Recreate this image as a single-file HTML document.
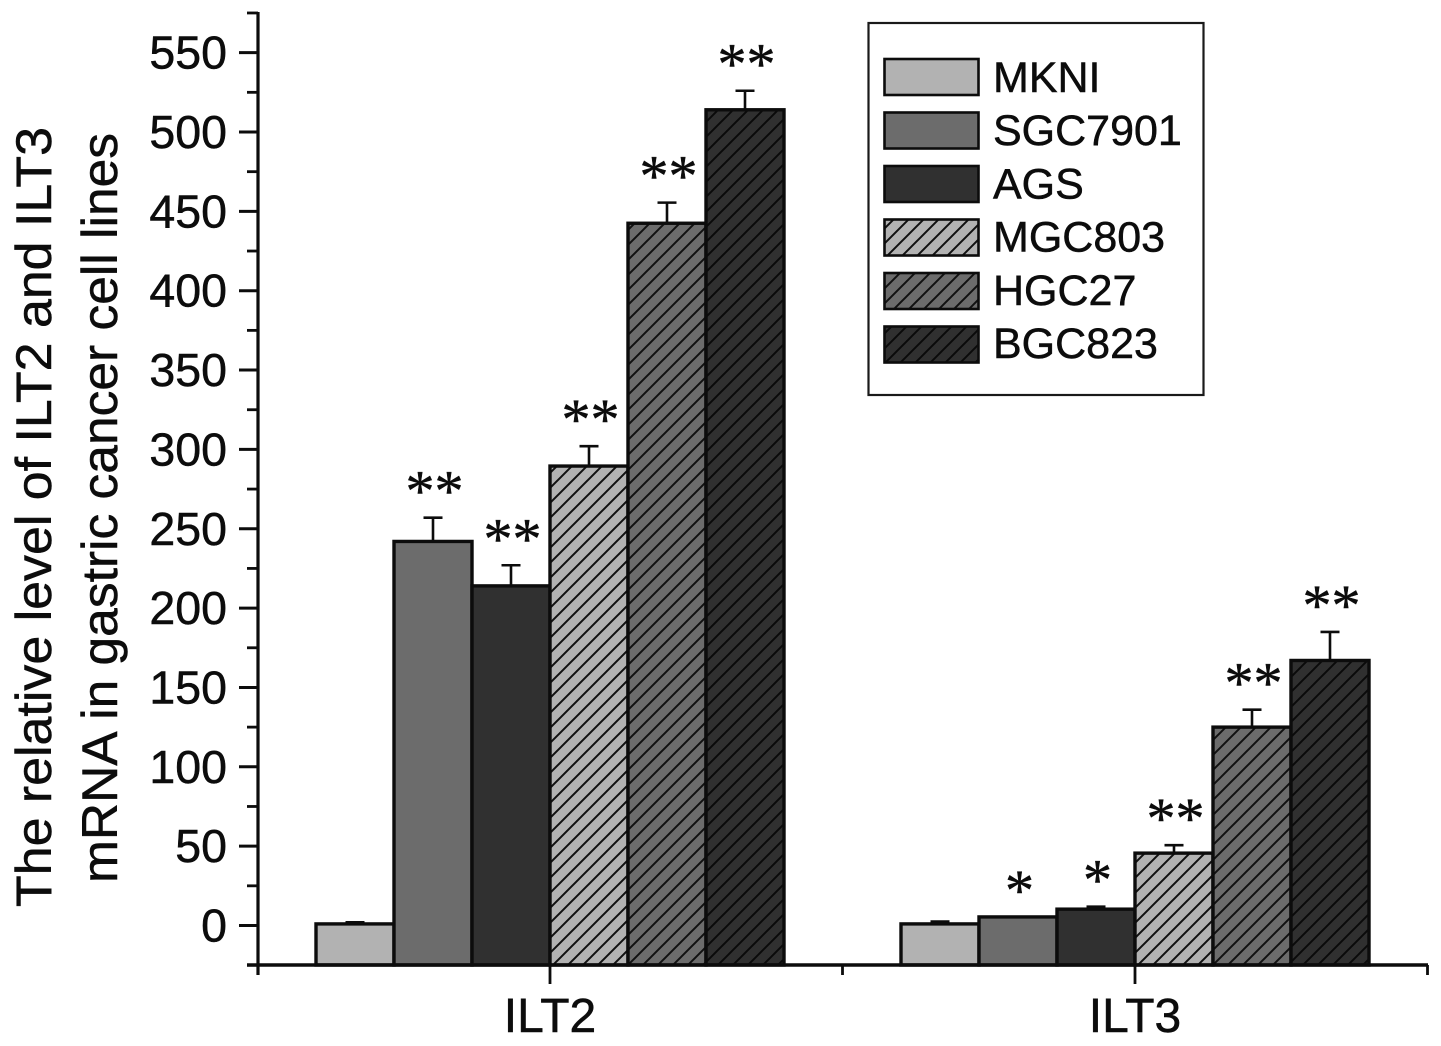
<!DOCTYPE html>
<html lang="en">
<head>
<meta charset="utf-8">
<title>ILT2 and ILT3 mRNA levels in gastric cancer cell lines</title>
<style>
  html, body { margin: 0; padding: 0; background: #fff; }
  svg { display: block; font-family: "Liberation Sans", Arial, sans-serif; }
  svg text { stroke: #0c0c0c; stroke-width: 0.5px; }
</style>
</head>
<body>
<svg id="chart" xmlns="http://www.w3.org/2000/svg" width="1441" height="1046" viewBox="0 0 1441 1046">
  <defs>
    <pattern id="hatch-light" patternUnits="userSpaceOnUse" width="15" height="15" patternTransform="translate(3 0)">
      <rect width="15" height="15" fill="#b2b2b2"></rect>
      <path d="M-4 4L4 -4M-4 19L19 -4M11 19L19 11" stroke="#111" stroke-width="2"></path>
    </pattern>
    <pattern id="hatch-mid" patternUnits="userSpaceOnUse" width="15" height="15" patternTransform="translate(3 0)">
      <rect width="15" height="15" fill="#6c6c6c"></rect>
      <path d="M-4 4L4 -4M-4 19L19 -4M11 19L19 11" stroke="#111" stroke-width="2"></path>
    </pattern>
    <pattern id="hatch-dark" patternUnits="userSpaceOnUse" width="15" height="15" patternTransform="translate(3 0)">
      <rect width="15" height="15" fill="#303030"></rect>
      <path d="M-4 4L4 -4M-4 19L19 -4M11 19L19 11" stroke="#0a0a0a" stroke-width="2"></path>
    </pattern>
  </defs>
  <text transform="translate(51 517) rotate(-90)" text-anchor="middle" font-size="50.5" textLength="780" lengthAdjust="spacingAndGlyphs" fill="#0c0c0c">The relative level of ILT2 and ILT3</text>
  <text transform="translate(117 508) rotate(-90)" text-anchor="middle" font-size="50.5" textLength="750" lengthAdjust="spacingAndGlyphs" fill="#0c0c0c">mRNA in gastric cancer cell lines</text>
  <g id="bars"></g>
  <g id="axes"></g>
  <g id="legend"></g>
</svg>
<script>
const categories = ['ILT2', 'ILT3'];
const seriesNames = ['MKNI', 'SGC7901', 'AGS', 'MGC803', 'HGC27', 'BGC823'];
const seriesFills = ['#b2b2b2', '#6c6c6c', '#303030', 'url(#hatch-light)', 'url(#hatch-mid)', 'url(#hatch-dark)'];
const valuesILT2 = [1, 242, 214, 289.5, 442.5, 514];
const valuesILT3 = [1, 5.4, 10.3, 45.6, 125, 167];
const errorsILT2 = [1, 15, 13, 12.5, 13, 12];
const errorsILT3 = [1.5, 0, 1.6, 5, 11, 18];
const starsILT2 = ['', '**', '**', '**', '**', '**'];
const starsILT3 = ['', '*', '*', '**', '**', '**'];
const yTickValues = [0, 50, 100, 150, 200, 250, 300, 350, 400, 450, 500, 550];
const yMinorValues = [-25, 25, 75, 125, 175, 225, 275, 325, 375, 425, 475, 525, 575];

const Y_ZERO = 925.5, Y_SCALE = 1.587, AXIS_X = 258, BASE_Y = 965, AXIS_RIGHT = 1427;
const GROUP_FIRST = 550, GROUP_STEP = 585, BAR_W = 78;
const NS = 'http://www.w3.org/2000/svg';

function yScale(v) { return Y_ZERO - v * Y_SCALE; }
function groupCenter(g) { return GROUP_FIRST + g * GROUP_STEP; }
function barLeft(g, s) { return groupCenter(g) + (s - seriesNames.length / 2) * BAR_W; }
function make(tag, parent) {
  const el = document.createElementNS(NS, tag);
  parent.appendChild(el);
  return el;
}
function setLine(el, x1, y1, x2, y2, w) {
  el.setAttribute('x1', x1);
  el.setAttribute('y1', y1);
  el.setAttribute('x2', x2);
  el.setAttribute('y2', y2);
  el.setAttribute('stroke', '#0c0c0c');
  el.setAttribute('stroke-width', w);
}

const barsG = document.getElementById('bars');
const axesG = document.getElementById('axes');
const legendG = document.getElementById('legend');
const groupValues = [valuesILT2, valuesILT3];
const groupErrors = [errorsILT2, errorsILT3];
const groupStars = [starsILT2, starsILT3];

groupValues.forEach(function (vals, g) {
  vals.forEach(function (v, s) {
    const left = barLeft(g, s);
    const cx = left + BAR_W / 2;
    const top = yScale(v);
    const errTop = yScale(v + groupErrors[g][s]);

    if (groupErrors[g][s] > 0) {
      const stem = make('line', barsG);
      
      
      setLine(stem, cx, errTop, cx, top, 2.6);
      const cap = make('line', barsG);
      
      
      setLine(cap, cx - 9.5, errTop, cx + 9.5, errTop, 2.6);
    }

    const bar = make('rect', barsG);
    
    
    bar.setAttribute('x', left);
    bar.setAttribute('y', top);
    bar.setAttribute('width', BAR_W);
    bar.setAttribute('height', BASE_Y - top);
    bar.setAttribute('fill', seriesFills[s]);
    bar.setAttribute('stroke', '#0c0c0c');
    bar.setAttribute('stroke-width', 3.4);

    if (groupStars[g][s]) {
      const star = make('text', barsG);
      
      
      star.setAttribute('x', cx + 1.5);
      star.setAttribute('y', errTop - 34 + 27);
      star.setAttribute('text-anchor', 'middle');
      star.setAttribute('font-size', 58);
      star.setAttribute('font-family', '"Liberation Serif", serif');
      star.setAttribute('fill', '#0c0c0c');
      star.textContent = groupStars[g][s];
    }
  });
});

const yAxis = make('line', axesG);


setLine(yAxis, AXIS_X, yScale(575) - 1, AXIS_X, BASE_Y + 10, 3.2);

const xAxis = make('line', axesG);


setLine(xAxis, 247, BASE_Y, AXIS_RIGHT + 1, BASE_Y, 3.4);

yMinorValues.forEach(function (v) {
  const t = make('line', axesG);
  
  
  setLine(t, 247, yScale(v), AXIS_X, yScale(v), 2.8);
});

yTickValues.forEach(function (v) {
  const t = make('line', axesG);
  
  
  setLine(t, 239, yScale(v), AXIS_X, yScale(v), 3);
  const label = make('text', axesG);
  
  
  label.setAttribute('x', 227);
  label.setAttribute('y', yScale(v) + 16);
  label.setAttribute('text-anchor', 'end');
  label.setAttribute('font-size', 46.5);
  label.setAttribute('fill', '#0c0c0c');
  label.textContent = String(v);
});

categories.forEach(function (name, g) {
  const cx = groupCenter(g);
  const t = make('line', axesG);
  
  
  setLine(t, cx, BASE_Y, cx, BASE_Y + 19, 2.8);
  const side = make('line', axesG);
  
  
  setLine(side, cx + GROUP_STEP / 2, BASE_Y, cx + GROUP_STEP / 2, BASE_Y + 10, 2.8);
  const label = make('text', axesG);
  
  
  label.setAttribute('x', cx);
  label.setAttribute('y', 1032);
  label.setAttribute('text-anchor', 'middle');
  label.setAttribute('font-size', 48);
  label.setAttribute('fill', '#0c0c0c');
  label.textContent = name;
});

const legendBox = make('rect', legendG);


legendBox.setAttribute('x', 868.5);
legendBox.setAttribute('y', 23);
legendBox.setAttribute('width', 335);
legendBox.setAttribute('height', 372);
legendBox.setAttribute('fill', '#fff');
legendBox.setAttribute('stroke', '#1a1a1a');
legendBox.setAttribute('stroke-width', 2.2);

seriesNames.forEach(function (name, s) {
  const swatch = make('rect', legendG);
  
  
  swatch.setAttribute('x', 884.5);
  swatch.setAttribute('y', 59 + s * 53.5);
  swatch.setAttribute('width', 94);
  swatch.setAttribute('height', 36);
  swatch.setAttribute('fill', seriesFills[s]);
  swatch.setAttribute('stroke', '#0c0c0c');
  swatch.setAttribute('stroke-width', 2.6);
  const label = make('text', legendG);
  
  
  label.setAttribute('x', 993);
  label.setAttribute('y', 92 + s * 53.2);
  label.setAttribute('font-size', 43);
  label.setAttribute('fill', '#0c0c0c');
  label.textContent = name;
});
</script>
</body>
</html>
